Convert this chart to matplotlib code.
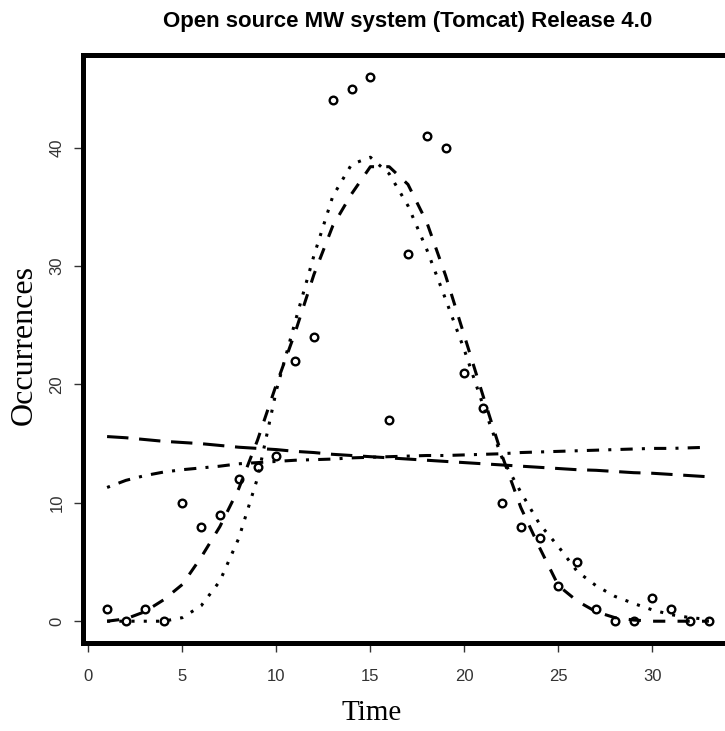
import numpy as np
import matplotlib
matplotlib.use('Agg')
from matplotlib import pyplot as plt

# observed weekly occurrences
time = np.arange(1, 34)
occurrences = [1, 0, 1, 0, 10, 8, 9, 12, 13, 14, 22, 24, 44, 45, 46, 17,
               31, 41, 40, 21, 18, 10, 8, 7, 3, 5, 1, 0, 0, 2, 1, 0, 0]

# fitted curves at each time step
fit_dashed = [0.0, 0.2, 0.8, 1.8, 3.1, 5.4, 8.0, 11.2, 15.3, 20.0, 24.4, 29.3,
              33.4, 36.1, 38.4, 38.4, 36.9, 33.7, 29.2, 24.1, 19.0, 14.0, 9.6,
              6.2, 3.0, 1.7, 0.8, 0.3, 0.1, 0.0, 0.0, 0.0, 0.0]
fit_dotted = [0.0, 0.0, 0.0, 0.0, 0.3, 1.3, 3.4, 7.0, 12.1, 19.5, 25.3, 30.9,
              35.9, 38.6, 39.2, 37.8, 35.1, 31.4, 27.2, 22.9, 18.2, 13.8, 10.9,
              8.2, 6.3, 4.2, 3.0, 2.1, 1.5, 0.95, 0.55, 0.3, 0.15]
fit_longdash = [15.6, 15.5, 15.35, 15.2, 15.1, 15.0, 14.85, 14.7, 14.6, 14.5,
                14.35, 14.25, 14.1, 14.0, 13.9, 13.8, 13.7, 13.6, 13.5, 13.4,
                13.3, 13.2, 13.1, 13.0, 12.9, 12.8, 12.75, 12.65, 12.55, 12.5,
                12.4, 12.3, 12.2]
fit_dashdot = [11.3, 11.9, 12.3, 12.6, 12.8, 12.95, 13.1, 13.3, 13.4, 13.5,
               13.6, 13.65, 13.7, 13.8, 13.85, 13.9, 13.95, 14.0, 14.0, 14.05,
               14.1, 14.15, 14.25, 14.3, 14.35, 14.4, 14.45, 14.5, 14.55, 14.6,
               14.6, 14.65, 14.7]

xticks = [0, 5, 10, 15, 20, 25, 30]
yticks = [0, 10, 20, 30, 40]

fig = plt.figure(figsize=(7.25, 7.31), dpi=100)
ax = fig.add_axes([0.1145, 0.1204, 0.8965, 0.8044])

lw = 2.2
ax.plot(time, occurrences, 'o', mfc='none', mec='black', ms=5.5, mew=1.7)
ax.plot(time, fit_dashed, color='black', lw=lw, dashes=(4, 4))
ax.plot(time, fit_dotted, color='black', lw=lw, dashes=(1, 3))
ax.plot(time, fit_longdash, color='black', lw=lw, dashes=(7, 3.5))
ax.plot(time, fit_dashdot, color='black', lw=lw, dashes=(1, 3, 4, 3))

ax.set_xlim(-0.28, 34.28)
ax.set_ylim(-1.84, 47.84)
ax.set_xticks(xticks)
ax.set_yticks(yticks)
ax.set_xticklabels([str(t) for t in xticks], fontsize=12, color='#333333',
                   family='Liberation Sans')
ax.set_yticklabels([str(t) for t in yticks], fontsize=12, color='#333333',
                   family='Liberation Sans', rotation=90, va='center')
ax.tick_params(axis='both', direction='out', length=6.5, width=1,
               color='#333333')
ax.tick_params(axis='x', pad=12)
ax.tick_params(axis='y', pad=7)

for s in ax.spines.values():
    s.set_linewidth(3.6)
    s.set_color('black')

fig.text(408 / 725, 1 - 21 / 731, 'Open source MW system (Tomcat) Release 4.0',
         ha='center', va='center', fontsize=16, fontweight='bold',
         family='Liberation Sans')
fig.text(372 / 725, 1 - 713 / 731, 'Time', ha='center', va='center',
         fontsize=21, family='Liberation Serif')
fig.text(24 / 725, 1 - 345 / 731, 'Occurrences', ha='center', va='center',
         fontsize=23, family='Liberation Serif', rotation=90)

fig.savefig('out.png', dpi=100)
